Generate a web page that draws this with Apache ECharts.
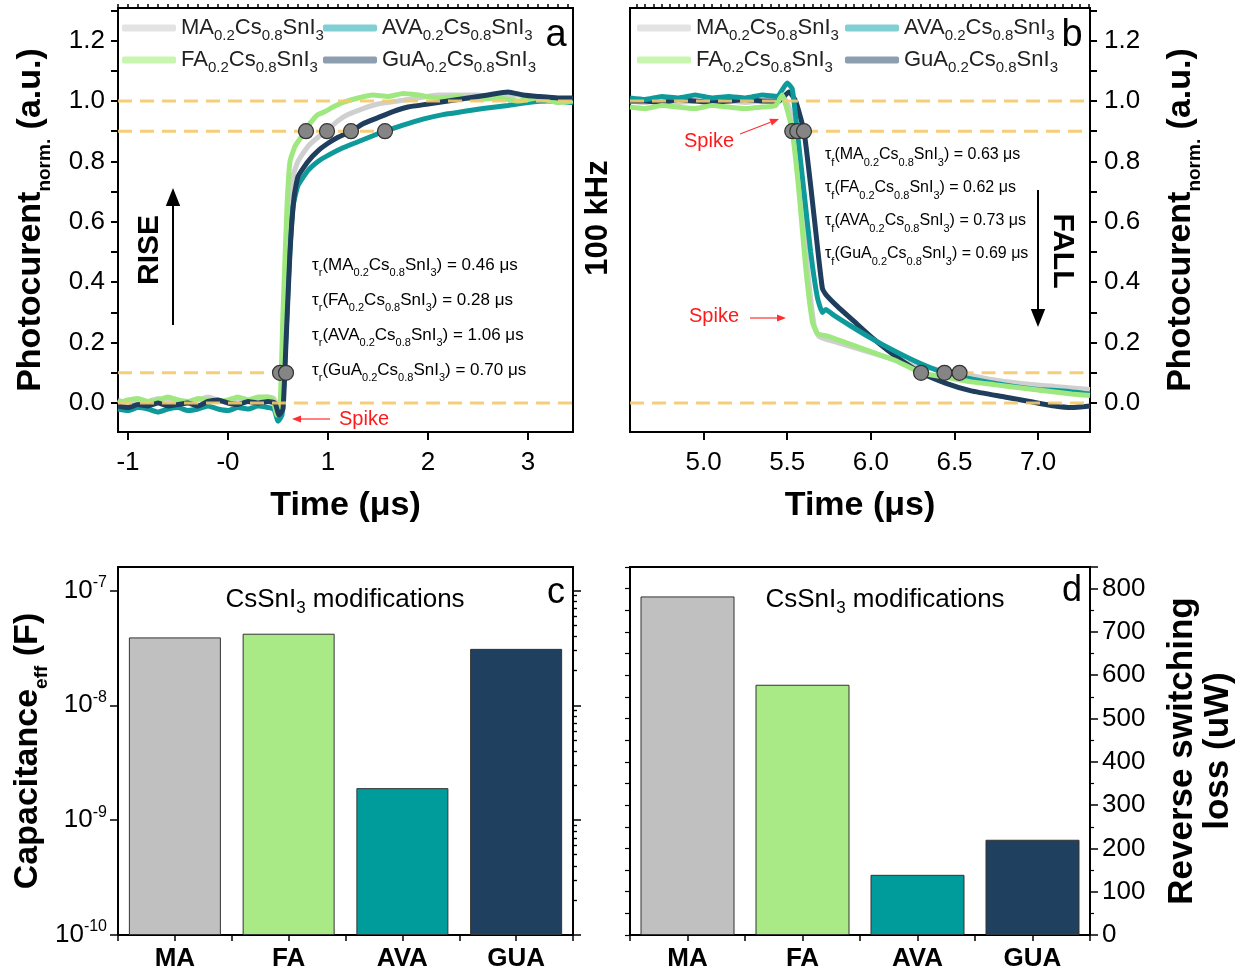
<!DOCTYPE html>
<html>
<head>
<meta charset="utf-8">
<script src="https://cdn.jsdelivr.net/npm/echarts@6/dist/echarts.min.js"></script>
<style>
html, body { margin: 0; padding: 0; background: #fff; }
#chart { width: 1253px; height: 977px; }
</style>
</head>
<body>
<div id="chart"></div>
<script>
var FONT = 'Liberation Sans, Arial, sans-serif';

// panel a: rise, [time (µs), normalized photocurrent]
var riseMA = [[-1.1,0.01],[-1.0,0.0],[-0.9,0.01],[-0.8,0.005],[-0.7,0.015],[-0.6,0.005],[-0.5,0.01],[-0.4,0.0],[-0.3,0.01],[-0.2,0.02],[-0.1,0.01],[0.0,0.0],[0.1,0.01],[0.2,0.005],[0.3,0.015],[0.4,0.02],[0.46,0.015],[0.5,-0.02],[0.53,0.02],[0.56,0.25],[0.6,0.55],[0.64,0.74],[0.7,0.8],[0.8,0.85],[0.9,0.88],[1.0,0.905],[1.1,0.935],[1.2,0.955],[1.35,0.975],[1.5,0.99],[1.7,1.0],[1.9,1.01],[2.1,1.02],[2.3,1.02],[2.5,1.02],[2.7,1.01],[2.9,1.02],[3.1,1.01],[3.3,1.0],[3.45,1.0]];
var riseFA = [[-1.1,0.0],[-1.0,0.01],[-0.9,0.015],[-0.8,0.005],[-0.7,0.01],[-0.6,0.02],[-0.5,0.01],[-0.4,0.005],[-0.3,0.015],[-0.2,0.01],[-0.1,0.005],[0.0,0.01],[0.1,0.02],[0.2,0.01],[0.3,0.02],[0.4,0.02],[0.45,0.01],[0.49,-0.04],[0.52,-0.02],[0.55,0.3],[0.59,0.65],[0.62,0.8],[0.67,0.85],[0.72,0.875],[0.77,0.9],[0.83,0.93],[0.9,0.955],[0.97,0.965],[1.05,0.98],[1.15,0.995],[1.3,1.01],[1.45,1.02],[1.6,1.015],[1.75,1.025],[1.9,1.02],[2.1,1.01],[2.3,1.015],[2.5,1.005],[2.7,1.01],[2.9,1.0],[3.1,1.01],[3.3,0.995],[3.45,1.0]];
var riseAVA = [[-1.1,-0.02],[-1.0,-0.025],[-0.9,-0.015],[-0.8,-0.02],[-0.7,-0.03],[-0.6,-0.02],[-0.5,-0.015],[-0.4,-0.025],[-0.3,-0.02],[-0.2,-0.01],[-0.1,-0.02],[0.0,-0.025],[0.1,-0.015],[0.2,-0.02],[0.3,-0.01],[0.4,-0.015],[0.46,-0.02],[0.5,-0.06],[0.54,-0.04],[0.57,0.15],[0.61,0.45],[0.65,0.65],[0.7,0.72],[0.8,0.77],[0.9,0.8],[1.0,0.82],[1.15,0.845],[1.3,0.865],[1.45,0.885],[1.57,0.9],[1.75,0.92],[1.95,0.94],[2.15,0.955],[2.35,0.965],[2.55,0.975],[2.8,0.985],[3.0,0.995],[3.2,1.0],[3.45,0.995]];
var riseGuA = [[-1.1,-0.01],[-1.0,-0.015],[-0.9,-0.005],[-0.8,-0.01],[-0.7,0.0],[-0.6,-0.01],[-0.5,-0.005],[-0.4,0.0],[-0.3,-0.01],[-0.2,0.005],[-0.1,0.01],[0.0,0.0],[0.1,-0.005],[0.2,0.005],[0.3,0.0],[0.4,0.005],[0.47,0.0],[0.51,-0.04],[0.55,-0.02],[0.58,0.2],[0.62,0.5],[0.66,0.68],[0.7,0.75],[0.8,0.8],[0.9,0.835],[1.0,0.86],[1.1,0.88],[1.23,0.9],[1.35,0.925],[1.5,0.945],[1.65,0.965],[1.8,0.98],[2.0,0.99],[2.2,1.0],[2.4,1.01],[2.6,1.02],[2.8,1.03],[2.95,1.02],[3.1,1.015],[3.3,1.01],[3.45,1.01]];

// panel b: fall
var fallMA = [[4.56,1.0],[4.65,0.995],[4.75,1.005],[4.85,0.995],[4.95,1.0],[5.05,0.99],[5.15,1.0],[5.25,0.995],[5.35,1.0],[5.44,0.995],[5.48,1.01],[5.51,0.98],[5.54,0.9],[5.58,0.7],[5.62,0.45],[5.66,0.26],[5.69,0.22],[5.8,0.2],[5.95,0.175],[6.1,0.15],[6.3,0.12],[6.53,0.1],[6.7,0.08],[6.9,0.065],[7.1,0.055],[7.31,0.045]];
var fallFA = [[4.56,0.98],[4.65,0.975],[4.75,0.985],[4.85,0.98],[4.95,0.975],[5.05,0.985],[5.15,0.98],[5.25,0.975],[5.35,0.98],[5.43,0.985],[5.47,1.02],[5.5,0.97],[5.53,0.9],[5.57,0.7],[5.61,0.45],[5.65,0.27],[5.68,0.23],[5.75,0.22],[5.85,0.2],[5.95,0.18],[6.05,0.16],[6.15,0.14],[6.3,0.1],[6.45,0.085],[6.6,0.07],[6.75,0.06],[6.9,0.05],[7.05,0.04],[7.2,0.03],[7.31,0.025]];
var fallAVA = [[4.56,1.01],[4.65,1.005],[4.75,1.015],[4.85,1.01],[4.95,1.02],[5.05,1.01],[5.15,1.015],[5.25,1.01],[5.35,1.02],[5.44,1.015],[5.5,1.06],[5.53,1.04],[5.56,0.9],[5.6,0.7],[5.64,0.5],[5.68,0.35],[5.71,0.3],[5.73,0.31],[5.78,0.29],[5.88,0.255],[6.0,0.215],[6.15,0.17],[6.3,0.13],[6.44,0.1],[6.6,0.08],[6.8,0.06],[7.0,0.045],[7.15,0.04],[7.31,0.03]];
var fallGuA = [[4.56,1.0],[4.65,1.0],[4.75,0.995],[4.85,1.005],[4.95,1.0],[5.05,0.995],[5.15,1.0],[5.25,1.005],[5.35,1.0],[5.45,1.0],[5.51,1.03],[5.55,1.0],[5.6,0.9],[5.64,0.72],[5.68,0.52],[5.71,0.38],[5.73,0.36],[5.8,0.32],[5.9,0.27],[6.0,0.22],[6.1,0.175],[6.2,0.135],[6.3,0.1],[6.45,0.065],[6.6,0.04],[6.8,0.02],[6.95,0.005],[7.1,-0.01],[7.2,-0.015],[7.31,-0.01]];

// 10% / 90% crossing points
var riseMarks90 = [0.78, 0.99, 1.23, 1.57];
var riseMarks10 = [0.52, 0.58];
var fallMarks90 = [5.53, 5.56, 5.60];
var fallMarks10 = [6.30, 6.44, 6.53];

// dashed reference levels: [level, from, to]
var riseLevels = [[1.0, -1.1, 3.45], [0.9, -1.1, 1.57], [0.1, -1.1, 0.58], [0.0, -1.1, 3.45]];
var fallLevels = [[1.0, 4.56, 7.31], [0.9, 5.60, 7.31], [0.1, 6.53, 7.31], [0.0, 4.56, 7.31]];

var cations = ['MA', 'FA', 'AVA', 'GuA'];
var riseTaus = ['0.46', '0.28', '1.06', '0.70'];
var fallTaus = ['0.63', '0.62', '0.73', '0.69'];

// panels c, d
var groups = ['MA', 'FA', 'AVA', 'GUA'];
var capacitance = [3.9e-8, 4.2e-8, 1.9e-9, 3.1e-8];
var switchingLoss = [782, 578, 139, 220];

// ticks
var riseTicks = [-1, 0, 1, 2, 3];
var fallTicks = [5.0, 5.5, 6.0, 6.5, 7.0];
var normTicks = [0, 0.2, 0.4, 0.6, 0.8, 1.0, 1.2];
var normTickMarks = [-0.1, 0, 0.1, 0.2, 0.3, 0.4, 0.5, 0.6, 0.7, 0.8, 0.9, 1.0, 1.1, 1.2, 1.3];
var capTicks = [1e-10, 1e-9, 1e-8, 1e-7];

function steps(a, b, d) {
  var out = [];
  for (var i = 0; a + i * d <= b + 1e-9; i++) out.push(+(a + i * d).toFixed(4));
  return out;
}
var riseMinor = steps(-1.1, 3.45, 0.1);
var fallMinor = steps(4.6, 7.3, 0.05);
var capMinor = [];
[1e-10, 1e-9, 1e-8].forEach(function (dec) {
  for (var k = 2; k <= 9; k++) capMinor.push(k * dec);
});

var colors = { MA: '#cfcfcf', FA: '#9fe87f', AVA: '#0e9a9b', GuA: '#1f3e5d' };
var legendColors = { MA: '#e3e3e3', FA: '#c8f5b0', AVA: '#7fcfd3', GuA: '#8d9eb0' };
var barColors = ['#c0c0c0', '#a9ea86', '#009c9c', '#1f405e'];
var DASH = '#f5c96c';

function formula(cation, k, s) {
  return '{' + k + '|' + cation + '}{' + s + '|0.2}{' + k + '|Cs}{' + s + '|0.8}{' + k + '|SnI}{' + s + '|3}';
}

var myChart = echarts.init(document.getElementById('chart'));

var axisBlack = { show: true, onZero: false, lineStyle: { color: '#000', width: 2 } };
var labelBase = { color: '#000', fontSize: 26, fontFamily: FONT };
var boldName = { color: '#000', fontSize: 34, fontWeight: 'bold', fontFamily: FONT };
var nameRich = {
  n: { fontSize: 34, fontWeight: 'bold', fontFamily: FONT, color: '#000', lineHeight: 46 },
  s: { fontSize: 19, fontWeight: 'bold', fontFamily: FONT, color: '#000', lineHeight: 19, verticalAlign: 'bottom' }
};

function minorAxis(base) {
  return Object.assign({
    type: 'value',
    axisLine: { show: false, onZero: false },
    axisLabel: { show: false },
    splitLine: { show: false }
  }, base);
}

function barLabel(v) { return Number.isInteger(v) ? groups[v] : ''; }

var xAxes = [
  { gridIndex: 0, type: 'value', min: -1.1, max: 3.45, axisLine: axisBlack,
    axisTick: { length: 8, customValues: riseTicks, lineStyle: { width: 2 } },
    axisLabel: Object.assign({ customValues: riseTicks, margin: 18, formatter: function (v) { return v === 0 ? '-0' : String(v); } }, labelBase),
    splitLine: { show: false },
    name: 'Time (μs)', nameLocation: 'middle', nameGap: 57, nameTextStyle: boldName },
  minorAxis({ gridIndex: 0, min: -1.1, max: 3.45, axisTick: { length: 4, customValues: riseMinor, lineStyle: { width: 1.5, color: '#000' } } }),
  { gridIndex: 1, type: 'value', min: 4.56, max: 7.31, axisLine: axisBlack,
    axisTick: { length: 8, customValues: fallTicks, lineStyle: { width: 2 } },
    axisLabel: Object.assign({ customValues: fallTicks, margin: 18, formatter: function (v) { return v.toFixed(1); } }, labelBase),
    splitLine: { show: false },
    name: 'Time (μs)', nameLocation: 'middle', nameGap: 57, nameTextStyle: boldName },
  minorAxis({ gridIndex: 1, min: 4.56, max: 7.31, axisTick: { length: 4, customValues: fallMinor, lineStyle: { width: 1.5, color: '#000' } } }),
  { gridIndex: 2, type: 'value', min: -0.5, max: 3.5, interval: 0.5, axisLine: axisBlack,
    axisTick: { length: 6, lineStyle: { width: 1.5 } },
    axisLabel: Object.assign({}, labelBase, { fontWeight: 'bold', margin: 11, formatter: barLabel }),
    splitLine: { show: false } },
  { gridIndex: 3, type: 'value', min: -0.5, max: 3.5, interval: 0.5, axisLine: axisBlack,
    axisTick: { length: 6, lineStyle: { width: 1.5 } },
    axisLabel: Object.assign({}, labelBase, { fontWeight: 'bold', margin: 11, formatter: barLabel }),
    splitLine: { show: false } }
];

var yAxes = [
  { gridIndex: 0, type: 'value', min: -0.096, max: 1.308, axisLine: axisBlack,
    axisTick: { length: 7, customValues: normTickMarks, lineStyle: { width: 2 } },
    axisLabel: Object.assign({ customValues: normTicks, margin: 13, formatter: function (v) { return v.toFixed(1); } }, labelBase),
    splitLine: { show: false },
    name: '{n|Photocurent}{s|norm.}{n| (a.u.)}', nameLocation: 'middle', nameRotate: 90, nameGap: 64,
    nameTextStyle: { rich: nameRich } },
  { gridIndex: 1, type: 'value', position: 'right', min: -0.096, max: 1.308, axisLine: axisBlack,
    axisTick: { length: 7, customValues: normTickMarks, lineStyle: { width: 2 } },
    axisLabel: Object.assign({ customValues: normTicks, margin: 14, formatter: function (v) { return v.toFixed(1); } }, labelBase),
    splitLine: { show: false },
    name: '{n|Photocurent}{s|norm.}{n| (a.u.)}', nameLocation: 'middle', nameRotate: 90, nameGap: 68,
    nameTextStyle: { rich: nameRich } },
  { gridIndex: 2, type: 'log', min: 1e-10, max: 1.6e-7, startValue: 1e-10, axisLine: axisBlack,
    axisTick: { length: 8, customValues: capTicks, lineStyle: { width: 1.5 } },
    axisLabel: { customValues: capTicks, margin: 11,
      formatter: function (v) { return '{b|10}{p|' + Math.round(Math.log10(v)) + '}'; },
      rich: { b: { fontSize: 26, fontFamily: FONT, color: '#000', lineHeight: 32 },
              p: { fontSize: 16, fontFamily: FONT, color: '#000', lineHeight: 16, verticalAlign: 'top' } } },
    splitLine: { show: false },
    name: '{n|Capacitance}{s|eff}{n| (F)}', nameLocation: 'middle', nameRotate: 90, nameGap: 60,
    nameTextStyle: { rich: nameRich } },
  minorAxis({ gridIndex: 2, type: 'log', min: 1e-10, max: 1.6e-7, axisTick: { length: 4, customValues: capMinor, lineStyle: { width: 1.2, color: '#000' } } }),
  minorAxis({ gridIndex: 2, type: 'log', position: 'right', min: 1e-10, max: 1.6e-7, axisTick: { length: 8, customValues: capTicks, lineStyle: { width: 1.5, color: '#000' } } }),
  minorAxis({ gridIndex: 2, type: 'log', position: 'right', min: 1e-10, max: 1.6e-7, axisTick: { length: 4, customValues: capMinor, lineStyle: { width: 1.2, color: '#000' } } }),
  { gridIndex: 3, type: 'value', position: 'right', min: 0, max: 850, interval: 100, axisLine: axisBlack,
    axisTick: { length: 8, lineStyle: { width: 1.5 } },
    minorTick: { show: true, splitNumber: 2, length: 4, lineStyle: { color: '#000', width: 1.2 } },
    axisLabel: Object.assign({ margin: 12, showMaxLabel: false }, labelBase),
    splitLine: { show: false }, minorSplitLine: { show: false },
    name: 'Reverse switching\nloss (uW)', nameLocation: 'middle', nameRotate: 90, nameGap: 74,
    nameTextStyle: Object.assign({ lineHeight: 36 }, boldName, { fontSize: 35 }) },
  minorAxis({ gridIndex: 3, min: 0, max: 850, interval: 50, axisTick: { length: 5, lineStyle: { width: 1.2, color: '#000' } } })
];

var series = [];
function curve(name, data, xi, yi) {
  series.push({ name: name, type: 'line', xAxisIndex: xi, yAxisIndex: yi, data: data, showSymbol: false,
    smooth: 0.15, z: 2, lineStyle: { color: colors[name], width: 5 }, itemStyle: { color: colors[name] } });
}
curve('MA', riseMA, 0, 0); curve('AVA', riseAVA, 0, 0); curve('FA', riseFA, 0, 0); curve('GuA', riseGuA, 0, 0);
curve('MA', fallMA, 2, 1); curve('GuA', fallGuA, 2, 1); curve('AVA', fallAVA, 2, 1); curve('FA', fallFA, 2, 1);

function levels(list, xi, yi) {
  list.forEach(function (l) {
    series.push({ type: 'line', xAxisIndex: xi, yAxisIndex: yi, data: [[l[1], l[0]], [l[2], l[0]]],
      showSymbol: false, silent: true, z: 3, lineStyle: { color: DASH, width: 3, type: [14, 8], opacity: 0.9 } });
  });
}
levels(riseLevels, 0, 0);
levels(fallLevels, 2, 1);

function marks(ts, level, xi, yi) {
  series.push({ type: 'scatter', xAxisIndex: xi, yAxisIndex: yi, z: 4, symbolSize: 15,
    data: ts.map(function (t) { return [t, level]; }),
    itemStyle: { color: '#858585', borderColor: '#333', borderWidth: 1.2, opacity: 1 } });
}
marks(riseMarks90, 0.9, 0, 0); marks(riseMarks10, 0.1, 0, 0);
marks(fallMarks90, 0.9, 2, 1); marks(fallMarks10, 0.1, 2, 1);

series.push({ name: 'capacitance', type: 'bar', xAxisIndex: 4, yAxisIndex: 2, barWidth: 92,
  data: capacitance.map(function (v, i) { return { value: [i, v], itemStyle: { color: barColors[i] } }; }),
  itemStyle: { borderColor: '#333', borderWidth: 1 } });
series.push({ name: 'loss', type: 'bar', xAxisIndex: 5, yAxisIndex: 6, barWidth: 94,
  data: switchingLoss.map(function (v, i) { return { value: [i, v], itemStyle: { color: barColors[i] } }; }),
  itemStyle: { borderColor: '#333', borderWidth: 1 } });

var legendRich = {
  a: { fontSize: 22, fontFamily: FONT, color: '#222', lineHeight: 30 },
  s: { fontSize: 15, fontFamily: FONT, color: '#222', lineHeight: 15, verticalAlign: 'bottom' }
};
function legendCol(left, names) {
  return { left: left, top: 17, padding: 0, orient: 'vertical', icon: 'roundRect', itemWidth: 54, itemHeight: 7, itemGap: 6,
    selectedMode: false,
    data: names.map(function (n) { return { name: n, itemStyle: { color: legendColors[n] } }; }),
    formatter: function (n) { return formula(n, 'a', 's'); },
    textStyle: { rich: legendRich } };
}

var tauRich = {
  t: { fontSize: 17, fontFamily: FONT, color: '#222', lineHeight: 26 },
  s: { fontSize: 11, fontFamily: FONT, color: '#222', lineHeight: 11, verticalAlign: 'bottom' }
};
var graphics = [];
function tauTexts(x, y0, dy, sub, taus, size) {
  var rich = JSON.parse(JSON.stringify(tauRich));
  rich.t.fontSize = size;
  cations.forEach(function (c, i) {
    graphics.push({ type: 'text', x: x, y: y0 + i * dy, style: {
      text: '{t|τ}{s|' + sub + '}{t|(}' + formula(c, 't', 's') + '{t|) = ' + taus[i] + ' μs}',
      rich: rich, verticalAlign: 'middle', align: 'left' } });
  });
}
tauTexts(312, 265, 35, 'r', riseTaus, 17);
tauTexts(825, 155, 33, 'f', fallTaus, 16);

function plain(text, x, y, opts) {
  graphics.push(Object.assign({ type: 'text', x: x, y: y, style: Object.assign({ text: text, align: 'center', verticalAlign: 'middle',
    fontFamily: FONT, fill: '#000' }, opts.style || {}) }, opts.el || {}));
}
plain('Spike', 364, 419, { style: { fill: '#ff1a1a', fontSize: 20 } });
plain('Spike', 709, 141, { style: { fill: '#ff1a1a', fontSize: 20 } });
plain('Spike', 714, 316, { style: { fill: '#ff1a1a', fontSize: 20 } });
plain('RISE', 150, 250, { style: { fontSize: 30, fontWeight: 'bold' }, el: { rotation: Math.PI / 2 } });
plain('FALL', 1062, 251, { style: { fontSize: 30, fontWeight: 'bold' }, el: { rotation: -Math.PI / 2 } });
plain('100 kHz', 598, 218, { style: { fontSize: 31, fontWeight: 'bold' }, el: { rotation: Math.PI / 2 } });
plain('a', 556, 36, { style: { fontSize: 38 } });
plain('b', 1072, 36, { style: { fontSize: 38 } });
plain('c', 556, 593, { style: { fontSize: 36 } });
plain('d', 1072, 591, { style: { fontSize: 36 } });
var modRich = { m: { fontSize: 26, fontFamily: FONT, color: '#3a3a3a', lineHeight: 34 },
                s: { fontSize: 17, fontFamily: FONT, color: '#3a3a3a', lineHeight: 17, verticalAlign: 'bottom' } };
graphics.push({ type: 'text', x: 345, y: 600, style: { text: '{m|CsSnI}{s|3}{m| modifications}', rich: modRich, align: 'center', verticalAlign: 'middle' } });
graphics.push({ type: 'text', x: 885, y: 600, style: { text: '{m|CsSnI}{s|3}{m| modifications}', rich: modRich, align: 'center', verticalAlign: 'middle' } });

function arrow(x1, y1, x2, y2, color, w, head) {
  var ang = Math.atan2(y2 - y1, x2 - x1);
  var bx = x2 - head * Math.cos(ang), by = y2 - head * Math.sin(ang);
  var hw = head * 0.4;
  graphics.push({ type: 'line', shape: { x1: x1, y1: y1, x2: bx, y2: by }, style: { stroke: color, lineWidth: w } });
  graphics.push({ type: 'polygon', shape: { points: [[x2, y2],
    [bx + hw * Math.sin(ang), by - hw * Math.cos(ang)], [bx - hw * Math.sin(ang), by + hw * Math.cos(ang)]] },
    style: { fill: color } });
}
arrow(173, 325, 173, 188, '#000', 2, 18);
arrow(1038, 190, 1038, 327, '#000', 2, 18);
arrow(330, 419, 292, 419, '#ff3030', 1.2, 9);
arrow(740, 134, 779, 119, '#ff3030', 1.2, 9);
arrow(750, 318, 786, 318, '#ff3030', 1.2, 9);

var option = {
  animation: false,
  backgroundColor: '#fff',
  grid: [
    { left: 118, top: 8, width: 455, height: 424, show: true, borderColor: '#000', borderWidth: 2 },
    { left: 630, top: 8, width: 460, height: 424, show: true, borderColor: '#000', borderWidth: 2 },
    { left: 118, top: 567, width: 455, height: 368, show: true, borderColor: '#000', borderWidth: 2 },
    { left: 630, top: 567, width: 460, height: 368, show: true, borderColor: '#000', borderWidth: 2 }
  ],
  legend: [
    legendCol(122, ['MA', 'FA']), legendCol(323, ['AVA', 'GuA']),
    legendCol(637, ['MA', 'FA']), legendCol(845, ['AVA', 'GuA'])
  ],
  xAxis: xAxes,
  yAxis: yAxes,
  series: series,
  graphic: graphics
};

option && myChart.setOption(option);
</script>
</body>
</html>
